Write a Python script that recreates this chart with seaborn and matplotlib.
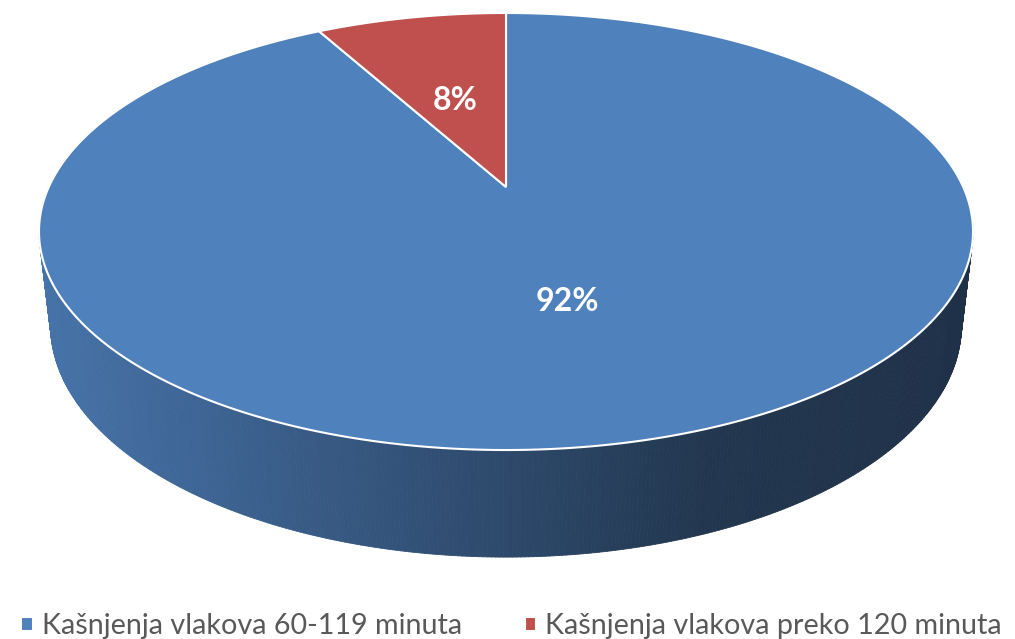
import numpy as np
import matplotlib
matplotlib.use("Agg")
import matplotlib.pyplot as plt
import seaborn as sns
from matplotlib.colors import LinearSegmentedColormap
from matplotlib.collections import PolyCollection
from matplotlib.transforms import Transform
from matplotlib.path import Path

# data
categories = ["Kašnjenja vlakova 60-119 minuta", "Kašnjenja vlakova preko 120 minuta"]
values = [92, 8]
colors = ["#4f81bd", "#c0504d"]

sns.set_style("white")
plt.rcParams['font.family'] = ['Lato', 'DejaVu Sans']

W, H = 1015, 639

# simple pinhole camera looking down at a unit disc (pixel output)
CX, CY = 506, 187          # where the disc centre lands
SCALE = 457.2              # focal / distance
SIN_P, COS_P = 0.4581, 0.8889
DIST = 4.364
THICK = 0.232              # disc thickness in disc radii


def project(x, y, z=0.0):
    den = 1 + (y * COS_P - z * SIN_P) / DIST
    px = CX + SCALE * x / den
    py = CY - SCALE * (y * SIN_P + z * COS_P) / den
    return px, py


class Perspective(Transform):
    input_dims = output_dims = 2
    is_separable = False
    has_inverse = False

    def transform_non_affine(self, values):
        values = np.asarray(values, dtype=float)
        px, py = project(values[:, 0], values[:, 1])
        return np.column_stack([px, py])

    def transform_path_non_affine(self, path):
        # sample the bezier pieces densely before warping
        pts = []
        t = np.linspace(0, 1, 40)
        for seg, code in path.iter_bezier():
            if seg.degree == 0:
                pts.append(seg.control_points)
            else:
                pts.append(seg(t))
        pts = np.vstack(pts)
        return Path(self.transform_non_affine(pts), closed=True)


fig = plt.figure(figsize=(W / 100, H / 100), dpi=100)
ax = fig.add_axes([0, 0, 1, 1])

# side wall facets with a left-to-right shading
theta = np.linspace(np.pi - 0.3, 2 * np.pi + 0.3, 500)
tx, ty = project(np.cos(theta), np.sin(theta), 0.0)
bx, by = project(np.cos(theta), np.sin(theta), -THICK)
facets = [[(tx[i], ty[i]), (tx[i + 1], ty[i + 1]), (bx[i + 1], by[i + 1]), (bx[i], by[i])]
          for i in range(len(theta) - 1)]
cmap = LinearSegmentedColormap.from_list(
    "side", [(0, "#4673a9"), (0.45, "#304d71"), (0.72, "#22374f"), (1, "#1f3148")])
mids = np.clip(((tx[:-1] + tx[1:]) / 2 - 39) / (973 - 39), 0, 1)
fc = cmap(mids)
ax.add_collection(PolyCollection(facets, facecolors=fc, edgecolors=fc, linewidths=0.6, zorder=1))

wedges, texts, autotexts = ax.pie(
    values, colors=colors, startangle=90, counterclock=False,
    autopct="%1.0f%%", pctdistance=0.49,
    wedgeprops=dict(edgecolor="white", linewidth=1.5),
    textprops=dict(color="white", fontsize=23, fontweight="bold"),
)
persp = Perspective() + ax.transData
for w in wedges:
    w.set_transform(persp)
    w.set_zorder(2)
for at in autotexts:
    ux, uy = at.get_position()
    px, py = project(ux, uy)
    at.set_position((px, py + 4))
    at.set_zorder(3)

ax.set_aspect("auto")
ax.set_xlim(0, W)
ax.set_ylim(H, 0)
ax.axis("off")

leg = fig.legend(wedges, categories, loc="lower center", ncol=2, frameon=False,
                 bbox_to_anchor=(0.504, -0.041), fontsize=20.7, handlelength=0.4,
                 handleheight=0.4, handletextpad=0.3, columnspacing=2.2)
for txt in leg.get_texts():
    txt.set_color("#595959")

fig.savefig("out.png", dpi=100)
